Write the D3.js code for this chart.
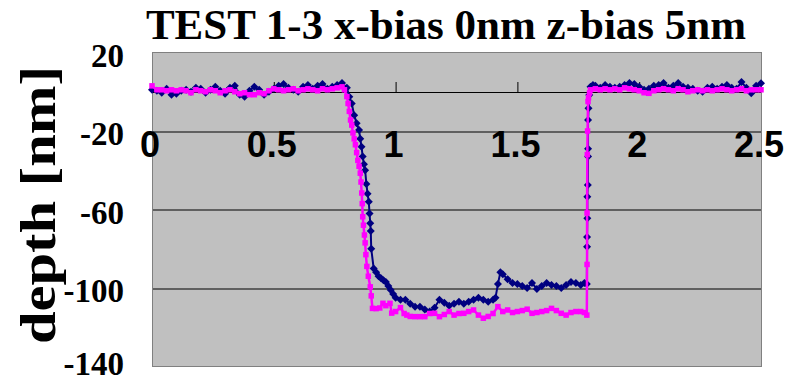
<!DOCTYPE html>
<html>
<head>
<meta charset="utf-8">
<script src="https://cdn.jsdelivr.net/npm/d3@7"></script>
<style>
  body { margin: 0; background: #fff; }
  svg { display: block; }
</style>
</head>
<body>
<script>
var svgwidth = 790, svgheight = 382;
var margin = { top: 52.5, right: 29, bottom: 15.5, left: 152 };
var width = svgwidth - margin.left - margin.right;
var height = svgheight - margin.top - margin.bottom;

// chart text
var titleText = "TEST 1-3 x-bias 0nm z-bias 5nm";
var yTitle = "depth [nm]";
var xTicks = [0, 0.5, 1, 1.5, 2, 2.5];
var xTickLabels = ["0", "0.5", "1", "1.5", "2", "2.5"];
var yTicks = [20, -20, -60, -100, -140];
var gridValues = [-20, -60, -100];

// series 1 (navy, diamonds)
var navyX = [0, 0.02, 0.04, 0.06, 0.08, 0.10, 0.12, 0.14, 0.16, 0.18,
  0.20, 0.22, 0.24, 0.26, 0.28, 0.30, 0.32, 0.34, 0.36, 0.38,
  0.40, 0.42, 0.44, 0.46, 0.48, 0.50, 0.52, 0.54, 0.56, 0.58,
  0.60, 0.62, 0.64, 0.66, 0.68, 0.70, 0.72, 0.74, 0.76, 0.78,
  0.80, 0.81, 0.82, 0.83, 0.84, 0.85, 0.855, 0.86, 0.865, 0.87,
  0.875, 0.88, 0.885, 0.89, 0.893, 0.896, 0.898, 0.90, 0.91, 0.92,
  0.93, 0.94, 0.95, 0.96, 0.97, 0.98, 0.99, 1.00, 1.02, 1.04,
  1.06, 1.08, 1.10, 1.12, 1.14, 1.16, 1.18, 1.20, 1.22, 1.24,
  1.26, 1.28, 1.30, 1.32, 1.34, 1.36, 1.38, 1.40, 1.41, 1.42,
  1.43, 1.44, 1.46, 1.48, 1.50, 1.52, 1.54, 1.56, 1.58, 1.60,
  1.62, 1.64, 1.66, 1.68, 1.70, 1.72, 1.74, 1.76, 1.775, 1.785,
  1.786, 1.786, 1.787, 1.787, 1.789, 1.790, 1.790, 1.790, 1.792, 1.795,
  1.80, 1.81, 1.82, 1.84, 1.86, 1.88, 1.90, 1.92, 1.94, 1.96,
  1.98, 2.00, 2.02, 2.03, 2.04, 2.06, 2.08, 2.10, 2.12, 2.14,
  2.16, 2.18, 2.20, 2.22, 2.24, 2.26, 2.28, 2.30, 2.32, 2.34,
  2.36, 2.38, 2.40, 2.42, 2.44, 2.46, 2.48, 2.50];
var navyDepth = [1.0, 0.5, -0.5, 1.5, -1.5, -1.0, 0.5, 1.0, 0.0, 2.0,
  1.5, -0.5, 1.0, 2.5, 0.5, -1.0, 2.0, 3.0, -1.5, -2.5,
  0.5, 2.5, 1.0, -1.5, 0.0, 1.5, 3.0, 4.0, 2.0, 1.0,
  0.0, 2.5, 3.5, 1.5, 3.0, 4.0, 1.5, 2.5, 3.5, 4.5,
  2.0, -2.5, -6, -12, -16, -19.5, -24, -28, -33, -37,
  -40, -47, -52, -56, -62, -67, -71, -80, -90, -92,
  -94, -95, -96, -97, -99, -101, -103, -105, -106, -106,
  -108, -109.5, -109.5, -111, -112, -110, -106, -107.5, -109, -108,
  -107, -108, -107, -106, -105, -106, -107, -106, -105, -98,
  -92, -93, -95.5, -97.5, -98, -99, -100, -97.5, -100.5, -99,
  -97.5, -98.5, -99, -100, -98.5, -97, -97.5, -98.5, -97.5, -98,
  -79, -74, -64.5, -53.5, -47.5, -33, -29, -14.4, -8.4, -1.7,
  2.6, 3.4, 3.0, 2.0, 3.5, 2.5, 2.0, 2.6, 3.5, 4.5,
  4.0, 2.5, 1.0, 0.0, 1.5, 3.0, 3.5, 4.5, 2.0, 3.0,
  4.5, 2.5, 2.0, 1.5, 0.5, 0.0, 2.0, 2.5, 1.5, 2.5,
  3.5, 2.0, 1.5, 5.0, 2.0, -0.8, 3.0, 4.3];

// series 2 (magenta, squares)
var pinkX = [0, 0.02, 0.04, 0.06, 0.08, 0.10, 0.12, 0.14, 0.16, 0.18,
  0.20, 0.22, 0.24, 0.26, 0.28, 0.30, 0.32, 0.34, 0.36, 0.38,
  0.40, 0.42, 0.44, 0.46, 0.48, 0.50, 0.52, 0.54, 0.56, 0.58,
  0.60, 0.62, 0.64, 0.66, 0.68, 0.70, 0.72, 0.74, 0.76, 0.78,
  0.79, 0.80, 0.805, 0.81, 0.815, 0.82, 0.825, 0.83, 0.835, 0.84,
  0.845, 0.85, 0.855, 0.858, 0.861, 0.863, 0.865, 0.868, 0.872, 0.875,
  0.878, 0.882, 0.888, 0.896, 0.90, 0.905, 0.92, 0.935, 0.948, 0.96,
  0.977, 0.984, 1.00, 1.02, 1.035, 1.046, 1.06, 1.08, 1.10, 1.12,
  1.14, 1.16, 1.18, 1.20, 1.22, 1.24, 1.26, 1.28, 1.30, 1.32,
  1.34, 1.36, 1.38, 1.40, 1.42, 1.44, 1.46, 1.48, 1.50, 1.52,
  1.54, 1.56, 1.58, 1.60, 1.62, 1.64, 1.66, 1.68, 1.70, 1.72,
  1.74, 1.76, 1.775, 1.785, 1.786, 1.786, 1.787, 1.788, 1.790, 1.792,
  1.796, 1.80, 1.82, 1.84, 1.86, 1.88, 1.90, 1.92, 1.94, 1.96,
  1.98, 2.00, 2.02, 2.04, 2.06, 2.08, 2.10, 2.12, 2.14, 2.16,
  2.18, 2.20, 2.22, 2.24, 2.26, 2.28, 2.30, 2.32, 2.34, 2.36,
  2.38, 2.40, 2.42, 2.44, 2.46, 2.48, 2.50];
var pinkDepth = [3.0, 1.0, 1.0, 0.5, 1.0, 0.5, 1.0, 0.5, -0.5, 1.0,
  0.5, 0.0, 1.0, 0.5, -0.5, 0.5, 1.0, 0.0, -1.0, -0.5,
  -1.5, -1.5, -0.5, -1.0, 0.5, 1.5, 1.0, 0.5, 1.0, 1.5,
  0.5, 1.0, 1.5, 1.0, 0.5, 1.5, 1.0, 1.5, 2.0, 2.5,
  1.0, -2.5, -6, -10, -14.4, -17, -21, -24, -27, -31,
  -35, -38, -41.5, -46, -51.6, -57, -63.7, -68, -73, -77,
  -83, -89, -94, -99.4, -104, -110.4, -110.5, -110.2, -107.8, -109,
  -107.8, -112.8, -112, -110, -113, -113.8, -114.5, -114.6, -114.6, -114.6,
  -113, -112.9, -114.6, -113.5, -112, -113.8, -113, -112.9, -112, -111.2,
  -113.8, -115.4, -114.5, -113, -109.5, -112, -111.2, -112.5, -112, -111.5,
  -110.8, -112.9, -112.5, -112, -111.5, -110.4, -111.5, -112.9, -113.8, -112.5,
  -112, -112, -112.5, -113.8, -88, -61.8, -32, -20, -5, -3,
  -0.6, 1.0, 1.5, 1.0, 1.5, 1.0, 1.5, 1.0, 2.0, 1.5,
  1.0, 0.5, -0.5, -0.8, 0.5, 1.0, 1.5, 1.0, 0.5, 1.5,
  1.0, 0.0, 0.5, 1.0, 0.5, 1.0, 0.5, 1.0, 1.5, 1.0,
  0.5, 1.0, 1.5, 0.5, 1.0, 1.0, 1.0];

var navyData = navyX.map(function(d, i) { return { x: d, y: navyDepth[i] }; });
var pinkData = pinkX.map(function(d, i) { return { x: d, y: pinkDepth[i] }; });

var x = d3.scaleLinear().domain([0, 2.5]).range([0, width]);
var y = d3.scaleLinear().domain([-140, 20]).range([height, 0]);

var root = d3.select("body").append("svg")
    .attr("width", svgwidth)
    .attr("height", svgheight);

var svg = root.append("g")
    .attr("transform", "translate(" + margin.left + "," + margin.top + ")");

// plot area
svg.append("rect")
    .attr("width", width)
    .attr("height", height)
    .attr("fill", "#c0c0c0");

// gridlines
svg.selectAll(".grid")
    .data(gridValues)
  .enter().append("line")
    .attr("x1", 0).attr("x2", width)
    .attr("y1", function(d) { return Math.round(y(d)) + 0.5; })
    .attr("y2", function(d) { return Math.round(y(d)) + 0.5; })
    .attr("stroke", "#000")
    .attr("stroke-width", 1);

// x axis at depth 0, ticks pointing up, labels drawn separately
var xAxis = svg.append("g")
    .attr("transform", "translate(0," + (Math.round(y(0)) + 0.5) + ")")
    .call(d3.axisTop(x).tickValues(xTicks).tickSize(10).tickFormat(""));
xAxis.select(".domain").attr("stroke", "#000");
xAxis.selectAll(".tick line").attr("stroke", "#000");

// border
svg.append("rect")
    .attr("x", 0.5).attr("y", 0)
    .attr("width", width)
    .attr("height", height)
    .attr("fill", "none")
    .attr("stroke", "#808080")
    .attr("stroke-width", 1);

var valueline = d3.line()
    .x(function(d) { return x(d.x); })
    .y(function(d) { return y(d.y); });

// navy series
svg.append("path")
    .datum(navyData)
    .attr("fill", "none")
    .attr("stroke", "#000080")
    .attr("stroke-width", 2)
    .attr("d", valueline);

svg.selectAll(".navy")
    .data(navyData)
  .enter().append("path")
    .attr("transform", function(d) { return "translate(" + x(d.x) + "," + y(d.y) + ")"; })
    .attr("d", "M0,-4L4,0L0,4L-4,0Z")
    .attr("fill", "#000080");

// magenta series
svg.append("path")
    .datum(pinkData)
    .attr("fill", "none")
    .attr("stroke", "#ff00ff")
    .attr("stroke-width", 2.5)
    .attr("d", valueline);

svg.selectAll(".pink")
    .data(pinkData)
  .enter().append("rect")
    .attr("x", function(d) { return x(d.x) - 2.75; })
    .attr("y", function(d) { return y(d.y) - 2.75; })
    .attr("width", 5.5)
    .attr("height", 5.5)
    .attr("fill", "#ff00ff");

// x tick labels (sit just under the -20 gridline)
svg.selectAll(".xlab")
    .data(xTicks)
  .enter().append("text")
    .attr("x", function(d) { return x(d) - 2; })
    .attr("y", y(-20) + 26)
    .attr("text-anchor", "middle")
    .style("font-family", "'Liberation Sans Narrow', 'Arial Narrow', sans-serif")
    .style("font-weight", "bold")
    .style("font-size", "36px")
    .text(function(d, i) { return xTickLabels[i]; });

// y tick labels
svg.selectAll(".ylab")
    .data(yTicks)
  .enter().append("text")
    .attr("x", -28)
    .attr("y", function(d) { return Math.min(y(d) + 14, 322); })
    .attr("text-anchor", "end")
    .style("font-family", "'Liberation Serif', 'Times New Roman', serif")
    .style("font-weight", "bold")
    .style("font-size", "33px")
    .text(function(d) { return d; });

// y axis title
root.append("text")
    .attr("transform", "translate(55,205) rotate(-90)")
    .attr("text-anchor", "middle")
    .attr("textLength", 278)
    .attr("lengthAdjust", "spacingAndGlyphs")
    .style("font-family", "'Liberation Serif', 'Times New Roman', serif")
    .style("font-weight", "bold")
    .style("font-size", "50px")
    .text(yTitle);

// chart title
root.append("text")
    .attr("x", 446)
    .attr("y", 39)
    .attr("text-anchor", "middle")
    .style("font-family", "'Liberation Serif', 'Times New Roman', serif")
    .style("font-weight", "bold")
    .style("font-size", "43px")
    .text(titleText);
</script>
</body>
</html>
